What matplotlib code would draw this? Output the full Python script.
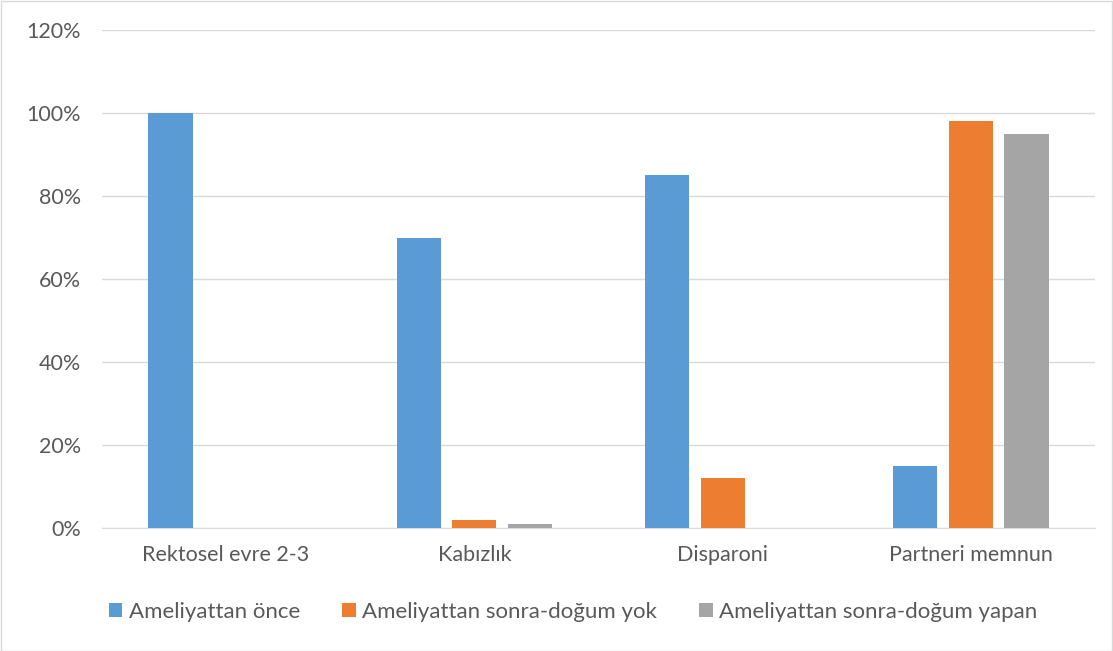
import numpy as np
import matplotlib.pyplot as plt
from matplotlib.patches import Rectangle

categories = ['Rektosel evre 2-3', 'Kabızlık', 'Disparoni', 'Partneri memnun']
series_names = ['Ameliyattan önce', 'Ameliyattan sonra-doğum yok', 'Ameliyattan sonra-doğum yapan']
before = [100, 70, 85, 15]
after_no_birth = [0, 2, 12, 98]
after_birth = [0, 1, 0, 95]
colors = ['#5b9bd5', '#ed7d31', '#a5a5a5']
yticks = [0, 20, 40, 60, 80, 100, 120]

plt.rcParams['font.family'] = ['Lato', 'DejaVu Sans']

fig = plt.figure(figsize=(11.13, 6.51), dpi=100)
ax = fig.add_axes([102 / 1113, 1 - 528 / 651, 993 / 1113, 498 / 651])

x = np.arange(len(categories))
width = 0.178
offset = 0.224
for i, (vals, name) in enumerate(zip([before, after_no_birth, after_birth], series_names)):
    ax.bar(x + (i - 1) * offset, vals, width, color=colors[i], label=name, zorder=3)

ax.set_xlim(-0.5, 3.5)
ax.set_ylim(0, 120)
ax.set_yticks(yticks)
ax.set_yticklabels([f'{t}%' for t in yticks])
ax.set_xticks(x)
ax.set_xticklabels(categories)
ax.grid(axis='y', color='#d9d9d9', linewidth=1, zorder=0)
for s in ['top', 'right', 'left']:
    ax.spines[s].set_visible(False)
ax.spines['bottom'].set_color('#d9d9d9')
ax.tick_params(axis='both', length=0, labelsize=15.5, colors='#595959')
ax.tick_params(axis='x', pad=12)
ax.tick_params(axis='y', pad=15)

leg = fig.legend(loc='center', bbox_to_anchor=(0.515, 1 - 612 / 651), ncol=3, frameon=False,
                 fontsize=16, handlelength=0.6, handleheight=0.6, handletextpad=0.3,
                 columnspacing=1.9, labelcolor='#595959')

fig.patches.append(Rectangle((0.5 / 1113, 0.5 / 651), 1 - 1.5 / 1113, 1 - 1.5 / 651,
                             transform=fig.transFigure, fill=False, edgecolor='#d9d9d9', linewidth=1))

fig.savefig('out.png', dpi=100)
